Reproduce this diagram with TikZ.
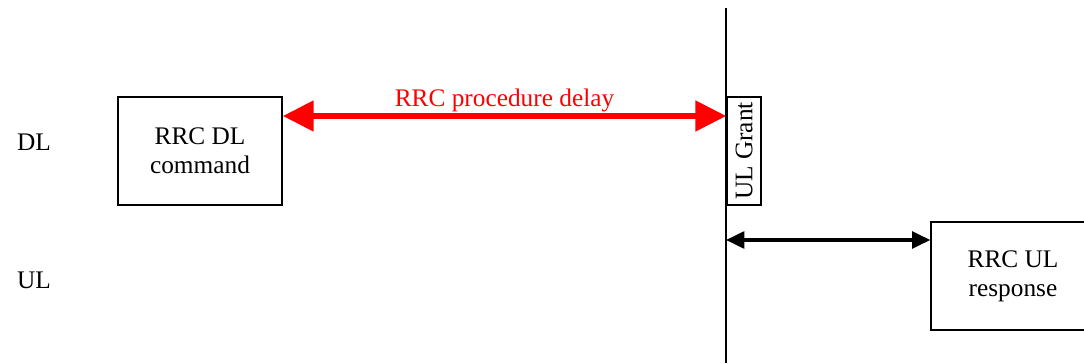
\documentclass[tikz,border=0pt]{standalone}
\usepackage{fontspec}
\setmainfont{Liberation Serif}
\usetikzlibrary{arrows.meta}

\tikzset{
  box/.style={draw, line width=1pt, align=center, inner sep=0pt},
  lane/.style={anchor=center},
  delay/.style={red, line width=4.5pt, {Triangle[length=22pt,width=21pt]}-{Triangle[length=22pt,width=21pt]}},
  resp/.style={black, line width=2.2pt, {Triangle[length=13pt,width=12pt]}-{Triangle[length=13pt,width=12pt]}},
}

\begin{document}
\begin{tikzpicture}[x=0.025cm, y=-0.025cm, font=\fontsize{18}{20.5}\selectfont]
  \useasboundingbox (0,0) rectangle (1084,363);
  % lanes
  \node[lane] (dllab) at (34,142) {DL};
  \node[lane] (ullab) at (34,280) {UL};
  % time line
  \coordinate (ttop) at (726,8);
  \coordinate (tbot) at (726,363);
  \draw[line width=1pt] (ttop) -- (tbot);
  % boxes
  \node[box, minimum width=4.1cm, minimum height=2.7cm] (dlcmd) at (200,151) {RRC DL\\command};
  \node[box, minimum width=2.7cm, minimum height=0.85cm, rotate=90] (grant) at (744,151) {UL Grant};
  \node[box, minimum width=4.1cm, minimum height=2.7cm] (ulresp) at (1013,276) {RRC UL\\response};
  % arrows
  \draw[delay] ([yshift=0.875cm]dlcmd.east) -- ([yshift=0.875cm]dlcmd.east -| grant.north)
    node[midway, above, text=red, inner sep=0.5pt] (dlylab) {RRC procedure delay};
  \draw[resp] ([yshift=0.9cm]ulresp.west -| ttop) -- ([yshift=0.9cm]ulresp.west);
\end{tikzpicture}
\end{document}
